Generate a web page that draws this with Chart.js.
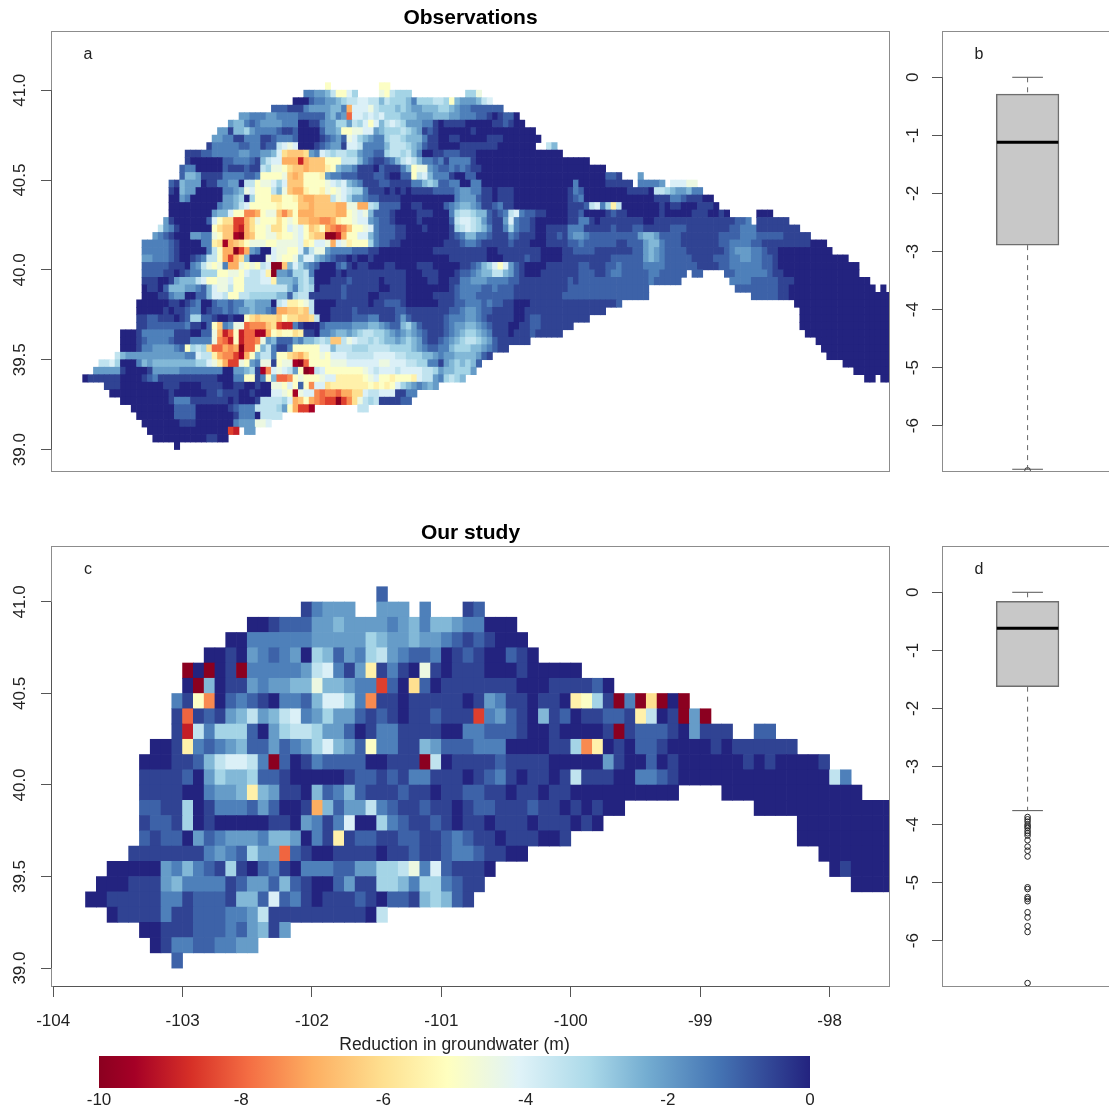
<!DOCTYPE html>
<html>
<head>
<meta charset="utf-8">
<title>Reduction in groundwater</title>
<script src="https://cdn.jsdelivr.net/npm/chart.js@4"></script>
<style>
  html, body { margin: 0; padding: 0; background: #fff; overflow: hidden; }
  body { position: relative; width: 1109px; height: 1113px; }
  canvas { position: absolute; }
</style>
</head>
<body>
<canvas id="mapObs" width="900" height="480" style="left:0;top:0"></canvas>
<canvas id="boxObs" width="300" height="480" style="left:891px;top:0"></canvas>
<canvas id="mapOur" width="900" height="520" style="left:0;top:515px"></canvas>
<canvas id="boxOur" width="300" height="480" style="left:891px;top:515px"></canvas>
<canvas id="colorBar" width="1109" height="78" style="left:0;top:1035px"></canvas>
<script>
// Each character is one grid cell, in half metres of reduction: 0 = 0 m ... k = -10 m.
// "." = no data, "_" = ten empty cells. Spaces only group the columns by ten (by five for ourRows).
const levelChars = "0123456789abcdefghijk";

const obsRows = [
  "____ .....a.... .....aa...",
  "____ .334457aa8 6....9a766 6......... .669......",
  "___ .........0 0023344567 7887757666 53666776a5 444578....",
  "___ .....22211 134444553e 8889766656 5445556654 33222222..",
  "__ .........4 4333443333 222224534g 8878786665 5544455544 3332210122 0.........",
  "__ .......455 3234444333 0011344664 768a857876 4443310111 1000001121 00........",
  "__ .....44155 6433332112 00002445aa 9988456667 6541210000 0010000000 0000......",
  "__ ....443311 3331123332 0000123429 8654336776 5553110011 0000011100 00000.....",
  "__ ...1333332 2331227898 0001234418 8733335777 6542110000 1111111000 0000..75..",
  "_ .........1 1122333334 4334458cdd dc43876776 6433226776 7530011222 1110000000 000000000.",
  "_ .........1 0000002233 3215788eee iedddaaa77 7532112357 8753323133 3310000000 0000000000 0000......",
  "_ ........23 3000002111 2117699acd dedddba544 3111021113 5a99432232 3211000000 0000000000 0000000...",
  "_ ........25 5411113333 223aaaa9de daaab43322 2111221002 2a78533310 0220000000 0000000000 0000000221 ...4......",
  "_ ......2154 4401133440 77a99868dd daaaa98785 4311122111 1335652233 0033000000 0000000000 0300000111 11.33334.8 8899......",
  "_ ......1054 4000003345 98aaa759de ebaab9a987 6631110101 0111122223 4433110111 0000000000 1320000000 0111107765 44533.....",
  "_ ......0043 0000004456 06aaaccaab deeddd7986 4432211110 0000000003 4442110111 0000000000 1230000000 0000001113 3211100...",
  "_ ......0000 0000034457 8aaaaabaaa ddeddddee9 9ee7622220 0110000234 5543112311 0000000000 11127836b7 0000000101 10001110..",
  "_ ......0000 00004558aa ffea99dfda eeeddddeea 9895222100 0011100036 7765521237 8322110000 1120000121 1000000100 0001110010 .....000..",
  "_ .....41000 00028acchh ec9aaaca9a ddeeffebaa 9884322100 0010000027 8876421148 3221000000 1133101111 1111001111 1111111111 1223.11111 1.........",
  "_ ....743100 0000acddhi ecaa9cca89 8adcaefgfd aa98322211 0001000016 7876531136 3221001111 3331111121 1122111112 2211111111 2233311111 111.......",
  "_ ...4321000 44339addjk edaa99baa9 8acddkkiea a885322211 0000000012 3553321113 2111001121 3443222222 2224554222 2111111122 2233322222 11111.....",
  "_ .333332100 0033bcjedc a999aa9999 8ba889e89b aaa6322110 0000000111 2332111112 1110001111 2232222221 1222455322 2111111122 3333221111 11111000..",
  "_ .333332100 00037aeekh e4300899aa 8479943333 2221100000 0000011111 1111100111 1111100001 1222211111 1122454322 2211111112 3444332110 000000000.",
  "_ .443332100 12377aehec 5000989aa9 5885432110 1001000000 0000000011 1111100011 1121100001 1111111122 2222454322 2221111222 3344332210 0000000000 00........",
  "_ .222221110 3479a93ee9 a9a78kkd58 6432000231 0110001100 0011100000 1123568a84 2100001111 1122111223 2222333322 2222111122 3333332210 0000000000 0000......",
  "_ .222211012 33666aa99a 8778bk4436 6730000101 1111111111 0001110001 2234557754 2100011111 1122211233 2222233222 22.22....2 2333333211 0000000000 0000......",
  "_ .111001455 578aa998aa 77788b5554 6750001112 1111101111 0000110011 3344433332 2111111111 2122222222 2222232222 2......... 3333222221 1100000000 000000....",
  "_ .011025554 43258997aa 7777777753 6760111121 1111100111 0000000012 3333223222 1111111111 2222222222 22222..... _ .222222221 1000000000 0000000.0.",
  "_ .000113440 0225887aa7 7666665526 7711111121 1110011111 0000011112 3332222222 1111111112 2222222222 22222..... _ ....222221 1000000000 0000000000",
  "_ 0000001101 2300233233 55444078bb a970000111 1110112221 0000001112 2333232211 0001111111 1111111112 ___ ..00000000 0000000000",
  "_ 0000010112 3301223234 454432eedd cd70001111 2111111122 1111111122 3443221111 0011111111 1111111... ___ ...0000000 0000000000",
  "_ 1122111012 6622100100 acdcccdacc ddc7001111 2223311124 2111111233 3443211111 0012211111 1111...... ___ ...0000000 0000000000",
  "_ 1122222223 1102ad3499 gfffdchii3 1000233333 4445543225 6421111234 4554321110 0112211111 1......... ___ ...0000000 0000000000",
  ".......000 1333333111 00229eigai ggjjeabaac b110334554 5677665434 5432111234 5665431110 111211111. _ ___ ....000000 0000000000",
  ".......000 1233332111 33339fgiai ggf9452224 355676dd79 8776765545 6542112345 6776542111 111....... ____ ......0000 0000000000",
  ".......000 133444432a 676cggefek gga573113a aaaa885777 6667777666 6543223356 665543211. _____ .......000 0000000000",
  "......7544 4444444443 3877beffhj ea5773aacd ecaa9a8887 7777888877 6665543445 555421.... _____ ........00 0000000000",
  "...7786000 3545555555 56689behh9 a43991a99j kgaaaa9998 8888899888 7766331456 5652...... ______ .000000000",
  "..44444100 0014444433 3333330044 561jf89874 akj78aaaaa aa98788878 8887764556 664....... ______ ...0000000",
  "0111111000 0123111111 1111100033 aa13a5ggfa 9aaa988bbb bba98aabaa ab87743676 5......... ______ .....00.00",
  "....111000 0000011100 0011110011 0010099a8a 2af88cbbbb bbbababa86 543454....",
  ".....00000 0000001000 0001121110 01000889aj 988fgffgee cc87788811 33........",
  ".......000 0000001333 1111111010 001777768e daefghhkhf c976711112 2.........",
  ".........0 0000000222 2000000123 33777764ae hhj....... .77.......",
  "_ 0000000222 2000000013 3307777...",
  "_ .000000011 1000000034 44998.....",
  "_ ..00000000 0000000hi. 44........",
  "_ ...0000000 0001100...",
  "_ .......0"
];

const ourRows = [
  "..... ..... ..... ..... ..... ..2..",
  "..... ..... ..... ..... 13444 ..444 .3... 12",
  "..... ..... ..... 00122 24454 44434 53554 33000",
  "..... ..... ...00 33333 34444 46544 54432 12100 0",
  "..... ..... .0010 43234 06524 36743 22301 21002 10",
  "..... ....k 0k01k 33333 47831 4b131 09101 11000 10000 0",
  "..... ....0 k5011 43445 59554 33h20 c2011 11111 00011 1120",
  "..... ...31 af023 21033 25886 3f110 11111 01431 10110 ba61k 3kck0 k",
  "..... ...1g 12145 74578 34644 21210 11211 1h342 10512 01122 1b701 k4k",
  "..... ...1i 73666 20467 76442 01331 11100 33222 10010 0001k 12221 04111 ..22",
  "..... .001b 32345 22423 46854 2a331 15422 23330 00011 6fb01 02210 00010 11111 1",
  "..... 00011 25788 73k20 13222 20011 1k701 11121 11100 00041 00201 00000 01010 0001",
  "..... 11112 04655 62210 00001 22121 33111 01231 01101 71110 03321 00000 00000 00007 3",
  "..... 11110 03445 b5411 05235 21112 11011 22110 11011 00000 00000 ....0 00000 00000 00",
  "..... 22116 01333 24200 1e524 47321 12110 12211 12110 10100 ..... ..... ..000 00000 00000 000",
  "..... 12216 01000 00110 43138 00632 11210 11011 10111 010.. ..... ..... ..... .0000 00000",
  "..... 21220 42344 43554 031b1 22112 21123 21101 11001 ..... ..... ..... ..... .0000 00000",
  "....1 11111 13432 644g2 10011 11011 21123 32110 0.... ..... ..... ..... ..... ...00 00000",
  "..000 00435 32161 02310 33322 44667 93821 110.. ..... ..... ..... ..... ..... ....0 10000",
  ".0001 11453 33312 44252 10024 11665 36632 11... ..... ..... ..... ..... ..... ..... .0000",
  "00111 11331 22215 52823 10111 21022 15652 1",
  "..011 11311 22233 47111 11111 107",
  "..... 00111 22232 4514",
  "..... .0133 22334 4",
  "..... ...2"
];

const latTicks = [39, 39.5, 40, 40.5, 41];
const latTickLabels = ["39.0", "39.5", "40.0", "40.5", "41.0"];
const lonTicks = [-104, -103, -102, -101, -100, -99, -98];
const lonTickLabels = ["-104", "-103", "-102", "-101", "-100", "-99", "-98"];
const boxTicks = [-6, -5, -4, -3, -2, -1, 0];
const boxTickLabels = ["-6", "-5", "-4", "-3", "-2", "-1", "0"];
const barTicks = [-10, -8, -6, -4, -2, 0];
const barTickLabels = ["-10", "-8", "-6", "-4", "-2", "0"];

// whisker top, upper quartile, median, lower quartile, whisker bottom
const obsBox = [0, -0.29, -1.12, -2.89, -6.75];
const obsOutliers = [-6.77];
const ourBox = [0, -0.155, -0.62, -1.625, -3.76];
const ourOutliers = [-3.87, -3.91, -3.95, -4.0, -4.03, -4.06, -4.11, -4.15, -4.19, -4.27, -4.38, -4.45, -4.55,
  -5.08, -5.11, -5.25, -5.28, -5.32, -5.51, -5.6, -5.75, -5.85, -6.73];

// colour ramp of the legend, value in metres -> colour
const colorStops = [
  [-10, "#8b0020"], [-9.5, "#a50026"], [-8.7, "#d73027"], [-7.9, "#f46d43"], [-7, "#fdae61"], [-6, "#fee090"],
  [-5.1, "#ffffbf"], [-4.1, "#e0f3f8"], [-3.1, "#abd9e9"], [-2.3, "#74add1"], [-1.3, "#4575b4"], [0, "#23237f"]
];

const FONT = "'Liberation Sans', Arial, sans-serif";
const TEXT = "#222";
const LINE = "#555";

function hexToRgb(h) {
  return [1, 3, 5].map((i) => parseInt(h.substr(i, 2), 16));
}

function colorFor(v) {
  for (let i = 1; i < colorStops.length; i++) {
    if (v <= colorStops[i][0]) {
      const [v0, c0] = colorStops[i - 1];
      const [v1, c1] = colorStops[i];
      const t = (v - v0) / (v1 - v0);
      const a = hexToRgb(c0), b = hexToRgb(c1);
      return "rgb(" + a.map((x, j) => Math.round(x + (b[j] - x) * t)).join(",") + ")";
    }
  }
  return colorStops[colorStops.length - 1][1];
}

// turn the row strings into bars: x = cell centre, y = [lower edge, upper edge]
function rowsToCells(rows, lonStart, latTop, step) {
  const data = [], colors = [];
  rows.forEach((text, r) => {
    const row = text.replace(/\s/g, "").replace(/_/g, "..........");
    for (let k = 0; k < row.length; k++) {
      if (row[k] === ".") continue;
      const value = -levelChars.indexOf(row[k]) * 0.5;
      const top = latTop - r * step;
      data.push({ x: lonStart + (k + 0.5) * step, y: [top - step, top], value: value });
      colors.push(colorFor(value));
    }
  });
  return { data, colors };
}

function fixedTicks(values) {
  return (scale) => { scale.ticks = values.map((value) => ({ value })); };
}

// box, axis line, rotated y labels and the panel letter
function panelDecor(letter, yLabels, labelOffset, withXAxis) {
  return {
    id: "panelDecor",
    afterDraw(chart) {
      const { ctx, chartArea: a, scales } = chart;
      ctx.save();
      ctx.strokeStyle = "#8c8c8c";
      ctx.lineWidth = 1;
      ctx.strokeRect(a.left - 0.5, a.top - 0.5, a.right - a.left + 1, a.bottom - a.top + 1);

      const yVals = scales.y.ticks.map((t) => t.value);
      ctx.strokeStyle = LINE;
      ctx.beginPath();
      ctx.moveTo(a.left - 0.5, scales.y.getPixelForValue(yVals[0]));
      ctx.lineTo(a.left - 0.5, scales.y.getPixelForValue(yVals[yVals.length - 1]));
      if (withXAxis) {
        const xVals = scales.x.ticks.map((t) => t.value);
        ctx.moveTo(scales.x.getPixelForValue(xVals[0]), a.bottom + 0.5);
        ctx.lineTo(scales.x.getPixelForValue(xVals[xVals.length - 1]), a.bottom + 0.5);
      }
      ctx.stroke();

      ctx.fillStyle = TEXT;
      ctx.textAlign = "center";
      ctx.textBaseline = "middle";
      ctx.font = "17px " + FONT;
      yVals.forEach((v, i) => {
        ctx.save();
        ctx.translate(a.left - labelOffset, scales.y.getPixelForValue(v));
        ctx.rotate(-Math.PI / 2);
        ctx.fillText(yLabels[i], 0, 0);
        ctx.restore();
      });

      ctx.font = "16px " + FONT;
      ctx.fillText(letter, a.left + 36, a.top + 23);
      ctx.restore();
    }
  };
}

function yAxis(min, max, values) {
  return {
    type: "linear", min, max,
    afterBuildTicks: fixedTicks(values),
    afterFit: (scale) => { scale.width = 52; },
    ticks: { display: false, autoSkip: false },
    grid: { drawOnChartArea: false, drawTicks: true, tickLength: 11, color: LINE },
    border: { display: false }
  };
}

function mapChart(id, title, letter, cells, barWidth, yMin, yMax, showLon) {
  const x = {
    type: "linear", min: -104.009, max: -97.541, offset: false, display: showLon,
    grid: { offset: false, drawOnChartArea: false, drawTicks: true, tickLength: 11, color: LINE },
    border: { display: false }
  };
  if (showLon) {
    x.afterBuildTicks = fixedTicks(lonTicks);
    x.afterFit = (scale) => { scale.height = 49; };
    x.ticks = {
      autoSkip: false, maxRotation: 0, padding: 14, color: TEXT, font: { family: FONT, size: 17 },
      callback: (v, i) => lonTickLabels[i]
    };
  }
  return new Chart(document.getElementById(id), {
    type: "bar",
    data: {
      datasets: [{
        data: cells.data,
        backgroundColor: cells.colors,
        barThickness: barWidth,
        borderWidth: 0
      }]
    },
    options: {
      responsive: false,
      animation: false,
      events: [],
      layout: { padding: { right: 11, bottom: showLon ? 0 : 9 } },
      plugins: {
        legend: { display: false },
        tooltip: { enabled: false },
        title: {
          display: true, text: title, fullSize: false, color: "#000",
          font: { family: FONT, size: 21, weight: "bold" },
          padding: { top: 5.4, bottom: 1.4 }
        }
      },
      scales: { x, y: yAxis(yMin, yMax, latTicks) }
    },
    plugins: [panelDecor(letter, latTickLabels, 32, showLon)]
  });
}

function boxChart(id, letter, box, outliers) {
  const [top, q1, med, q3, low] = box;
  const whisker = { type: "line", borderColor: "#666", borderWidth: 1, borderDash: [5, 5], pointRadius: 0 };
  const cap = { type: "line", borderColor: "#555", borderWidth: 1, pointRadius: 0 };
  return new Chart(document.getElementById(id), {
    type: "bar",
    data: {
      datasets: [
        { type: "line", data: [{ x: 0.6, y: med }, { x: 1.4, y: med }], borderColor: "#000", borderWidth: 3, pointRadius: 0 },
        Object.assign({ data: [{ x: 1, y: top }, { x: 1, y: q1 }] }, whisker),
        Object.assign({ data: [{ x: 1, y: q3 }, { x: 1, y: low }] }, whisker),
        Object.assign({ data: [{ x: 0.8, y: top }, { x: 1.2, y: top }] }, cap),
        Object.assign({ data: [{ x: 0.8, y: low }, { x: 1.2, y: low }] }, cap),
        {
          type: "scatter",
          data: outliers.map((v) => ({ x: 1, y: v })),
          pointRadius: 2.8, pointBackgroundColor: "rgba(0,0,0,0)", pointBorderColor: "#222", pointBorderWidth: 1
        },
        {
          type: "bar",
          data: [{ x: 1, y: [q3, q1] }],
          barThickness: 62.7,
          backgroundColor: "#c8c8c8",
          borderColor: "#6e6e6e",
          borderWidth: 1.5,
          borderSkipped: false
        }
      ]
    },
    options: {
      responsive: false,
      animation: false,
      events: [],
      layout: { padding: { top: 32, bottom: 9 } },
      plugins: { legend: { display: false }, tooltip: { enabled: false } },
      scales: {
        x: { type: "linear", min: -0.101, max: 3.062, offset: false, display: false, grid: { offset: false } },
        y: yAxis(-6.78, 0.78, boxTicks)
      }
    },
    plugins: [panelDecor(letter, boxTickLabels, 30, false)]
  });
}

function colorBarChart() {
  return new Chart(document.getElementById("colorBar"), {
    type: "bar",
    data: {
      labels: [""],
      datasets: [{
        data: [[-10, 0]],
        barPercentage: 1,
        categoryPercentage: 1,
        inflateAmount: 0,
        borderWidth: 0,
        backgroundColor: (context) => {
          const { chart } = context;
          const area = chart.chartArea;
          if (!area) return "#888";
          const gradient = chart.ctx.createLinearGradient(area.left, 0, area.right, 0);
          colorStops.forEach(([v, c]) => gradient.addColorStop((v + 10) / 10, c));
          return gradient;
        }
      }]
    },
    options: {
      indexAxis: "y",
      responsive: false,
      animation: false,
      events: [],
      layout: { padding: { left: 99, right: 299 } },
      plugins: {
        legend: { display: false },
        tooltip: { enabled: false },
        title: {
          display: true, text: "Reduction in groundwater (m)", fullSize: false, color: TEXT,
          font: { family: FONT, size: 17.5, weight: "normal" },
          padding: { top: 0, bottom: 0 }
        }
      },
      scales: {
        x: {
          type: "linear", min: -10, max: 0, offset: false,
          afterBuildTicks: fixedTicks(barTicks),
          afterFit: (scale) => { scale.height = 25; },
          ticks: {
            autoSkip: false, maxRotation: 0, padding: 2, color: TEXT, font: { family: FONT, size: 17 },
            callback: (v, i) => barTickLabels[i]
          },
          grid: { display: false, drawTicks: false, tickLength: 0 },
          border: { display: false }
        },
        y: { display: false }
      }
    }
  });
}

const obsCells = rowsToCells(obsRows, -103.772, 41.042, 1 / 24);
const ourCells = rowsToCells(ourRows, -103.75, 41.083, 1 / 12);

mapChart("mapObs", "Observations", "a", obsCells, 5.39, 38.881, 41.324, false);
boxChart("boxObs", "b", obsBox, obsOutliers);
mapChart("mapOur", "Our study", "c", ourCells, 10.78, 38.902, 41.3, true);
boxChart("boxOur", "d", ourBox, ourOutliers);
colorBarChart();
</script>
</body>
</html>
